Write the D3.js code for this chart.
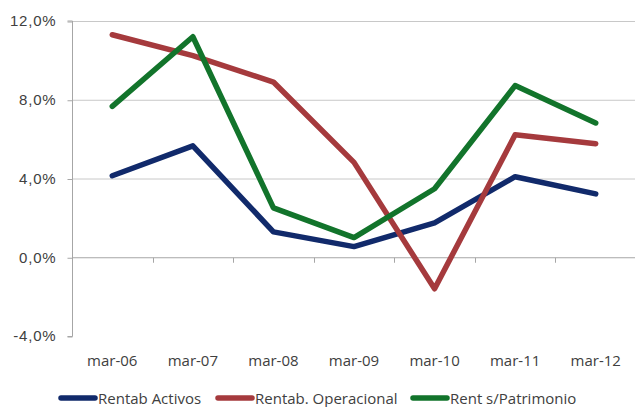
<!DOCTYPE html>
<html>
<head>
<meta charset="utf-8">
<script src="https://cdn.jsdelivr.net/npm/d3@7"></script>
<style>
  html, body { margin: 0; padding: 0; background: #fff; }
  svg { display: block; font-family: "Open Sans", sans-serif; }
</style>
</head>
<body>
<svg id="chart" width="635" height="407"></svg>
<script>
// Periods on the x axis
const categories = ["mar-06", "mar-07", "mar-08", "mar-09", "mar-10", "mar-11", "mar-12"];

// Ratios in percent
const rentabActivos = [4.14, 5.66, 1.29, 0.54, 1.75, 4.09, 3.22];
const rentabOperacional = [11.3, 10.24, 8.9, 4.82, -1.6, 6.22, 5.77];
const rentPatrimonio = [7.66, 11.2, 2.51, 1.0, 3.48, 8.72, 6.82];

// Y axis ticks
const yTicks = [-4, 0, 4, 8, 12];

const seriesNames = ["Rentab Activos", "Rentab. Operacional", "Rent s/Patrimonio"];
const seriesColors = ["#112a6b", "#a53a3d", "#12742b"];
const series = [rentabActivos, rentabOperacional, rentPatrimonio].map((values, i) => ({
  name: seriesNames[i], color: seriesColors[i], values
}));

const svg = d3.select("#chart");
const plotLeft = 72, plotRight = 636, plotTop = 21, plotBottom = 336;

const x = d3.scaleBand().domain(categories).range([plotLeft, plotRight]).paddingInner(0).paddingOuter(0);
const y = d3.scaleLinear().domain([-4, 12]).range([plotBottom, plotTop]);

// Spanish-style percent labels: decimal comma, plain hyphen for negatives
const esLocale = d3.formatLocale({ decimal: ",", thousands: ".", grouping: [3], currency: ["", "€"], minus: "-" });
const fmtPct = d => esLocale.format(".1f")(d) + "%";

// Horizontal gridlines
svg.append("g")
  .selectAll("line")
  .data(yTicks.filter(t => t !== 0 && t !== -4))
  .join("line")
  .attr("x1", plotLeft).attr("x2", 635)
  .attr("y1", d => y(d) + 0.5).attr("y2", d => y(d) + 0.5)
  .attr("stroke", "#c8c8c8").attr("stroke-width", 1);

// Y axis
const yAxis = svg.append("g")
  .attr("transform", `translate(${plotLeft + 0.5},0)`)
  .call(d3.axisLeft(y).tickValues(yTicks).tickSize(5).tickPadding(11).tickFormat(fmtPct));
yAxis.select(".domain").attr("stroke", "#a6a6a6").attr("d", `M-5,${plotBottom + 0.5}H0V${plotTop}H-5`);
yAxis.selectAll(".tick line").attr("stroke", "#a6a6a6").attr("transform", "translate(0,0.5)");
yAxis.selectAll(".tick text")
  .attr("fill", "#404040")
  .style("font-size", "15px")
  .style("letter-spacing", "0.8px");

// Zero line with category tick marks
const xAxis = svg.append("g")
  .attr("transform", `translate(0,${y(0) + 0.5})`);
xAxis.append("line").attr("x1", plotLeft).attr("x2", 635).attr("stroke", "#a6a6a6");
xAxis.selectAll("line.tk")
  .data(categories.slice(1))
  .join("line").attr("class", "tk")
  .attr("x1", d => Math.round(x(d)) + 0.5).attr("x2", d => Math.round(x(d)) + 0.5)
  .attr("y1", 0).attr("y2", 5)
  .attr("stroke", "#a6a6a6");

// Category labels, placed below the plot
svg.append("g")
  .selectAll("text")
  .data(categories)
  .join("text")
  .attr("x", d => x(d) + x.bandwidth() / 2)
  .attr("y", 366)
  .attr("text-anchor", "middle")
  .attr("fill", "#404040")
  .style("font-size", "15px")
  .text(d => d);

// Lines
const line = d3.line()
  .x((d, i) => x(categories[i]) + x.bandwidth() / 2)
  .y(d => y(d));

svg.append("g")
  .selectAll("path")
  .data(series)
  .join("path")
  .attr("d", d => line(d.values))
  .attr("fill", "none")
  .attr("stroke", d => d.color)
  .attr("stroke-width", 5.5)
  .attr("stroke-linejoin", "round")
  .attr("stroke-linecap", "round");

// Legend
const legendX = [61, 218, 413];
const lg = svg.append("g")
  .selectAll("g")
  .data(series)
  .join("g")
  .attr("transform", (d, i) => `translate(${legendX[i]},398)`);
lg.append("line")
  .attr("x1", 0).attr("x2", 34)
  .attr("stroke", d => d.color)
  .attr("stroke-width", 5.5)
  .attr("stroke-linecap", "round");
lg.append("text")
  .attr("x", 37).attr("y", 5.5)
  .attr("fill", "#404040")
  .style("font-size", "15px")
  .text(d => d.name);
</script>
</body>
</html>
